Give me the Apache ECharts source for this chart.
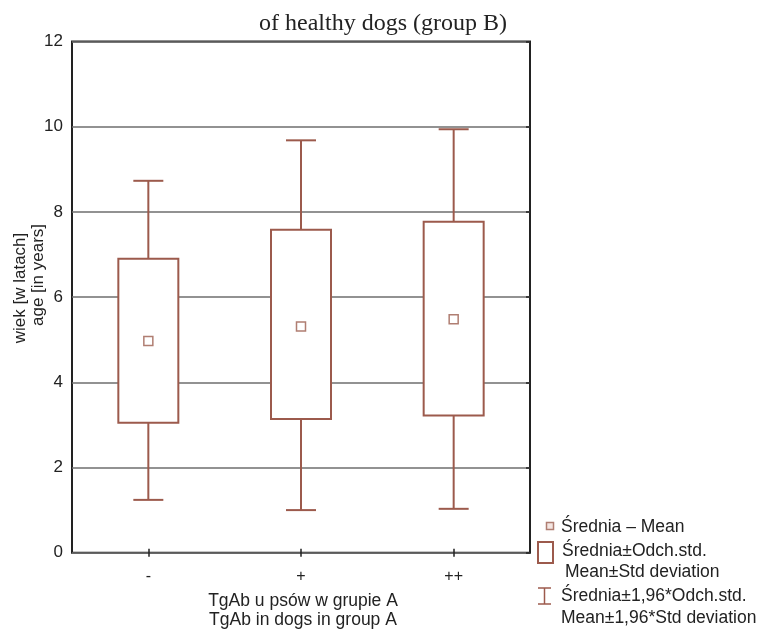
<!DOCTYPE html>
<html>
<head>
<meta charset="utf-8">
<script src="https://cdn.jsdelivr.net/npm/echarts@6/dist/echarts.min.js"></script>
<style>
  html, body { margin: 0; padding: 0; background: #fff; }
  #chart { width: 761px; height: 630px; }
</style>
</head>
<body>
<div id="chart"></div>
<script>
// TgAb groups and age statistics (years)
var categories = ['-', '+', '++'];
var means = [4.97, 5.31, 5.48];
var sdLow = [3.05, 3.14, 3.22];        // mean - SD
var sdHigh = [6.90, 7.58, 7.77];       // mean + SD
var ciLow = [1.24, 1.00, 1.03];        // mean - 1.96*SD
var ciHigh = [8.73, 9.68, 9.94];       // mean + 1.96*SD
var yTicks = [0, 2, 4, 6, 8, 10, 12];

var BROWN = '#9c5a4c';
var LIGHT_BROWN = '#b07e72';
var TEXT = '#222';
var SANS = '"Liberation Sans", Arial, sans-serif';
var LABEL_FONT = '17.5px ' + SANS;

var boxData = categories.map(function (c, i) {
  return [i, ciLow[i], sdLow[i], means[i], sdHigh[i], ciHigh[i]];
});

function renderBox(params, api) {
  var i = api.value(0);
  var x = api.coord([i, 0])[0];
  var yCiLow = api.coord([i, api.value(1)])[1];
  var ySdLow = api.coord([i, api.value(2)])[1];
  var yMean = api.coord([i, api.value(3)])[1];
  var ySdHigh = api.coord([i, api.value(4)])[1];
  var yCiHigh = api.coord([i, api.value(5)])[1];
  var boxW = 60, capW = 30, m = 9;
  var st = { stroke: BROWN, lineWidth: 2, fill: null };
  return {
    type: 'group',
    children: [
      { type: 'line', shape: { x1: x, y1: yCiHigh, x2: x, y2: ySdHigh }, style: st },
      { type: 'line', shape: { x1: x, y1: ySdLow, x2: x, y2: yCiLow }, style: st },
      { type: 'line', shape: { x1: x - capW / 2, y1: yCiHigh, x2: x + capW / 2, y2: yCiHigh }, style: st },
      { type: 'line', shape: { x1: x - capW / 2, y1: yCiLow, x2: x + capW / 2, y2: yCiLow }, style: st },
      { type: 'rect', shape: { x: x - boxW / 2, y: ySdHigh, width: boxW, height: ySdLow - ySdHigh },
        style: { stroke: BROWN, lineWidth: 2, fill: '#fff' } },
      { type: 'rect', shape: { x: x - m / 2, y: yMean - m / 2, width: m, height: m },
        style: { stroke: LIGHT_BROWN, lineWidth: 1.5, fill: '#fff' } }
    ]
  };
}

var chart = echarts.init(document.getElementById('chart'), null, { renderer: 'canvas' });

var gridBox = { left: 72, right: 231, top: 41.5, bottom: 77.3 };

chart.setOption({
  animation: false,
  backgroundColor: '#fff',
  title: {
    text: 'of healthy dogs (group B)',
    left: 378, top: 7, textAlign: 'center',
    textStyle: { fontFamily: '"Liberation Serif", "Times New Roman", serif', fontSize: 24, fontWeight: 'normal', color: TEXT }
  },
  grid: Object.assign({ show: true, borderColor: '#222', borderWidth: 2, backgroundColor: 'transparent' }, gridBox),
  xAxis: [
    {
      type: 'category', data: categories, position: 'bottom',
      axisLine: { show: false },
      axisTick: { show: true, inside: true, alignWithLabel: true, length: 4, lineStyle: { color: '#222', width: 1.5 } },
      axisLabel: { color: TEXT, fontFamily: SANS, fontSize: 16, margin: 16 }
    },
    {
      type: 'category', data: categories, position: 'top',
      axisLine: { show: false },
      axisTick: { show: true, inside: true, alignWithLabel: true, length: 4, lineStyle: { color: '#222', width: 1.5 } },
      axisLabel: { show: false }
    }
  ],
  yAxis: [
    {
      type: 'value', min: yTicks[0], max: yTicks[yTicks.length - 1], interval: 2,
      axisLine: { show: false },
      axisTick: { show: false },
      axisLabel: { color: TEXT, fontFamily: SANS, fontSize: 17, margin: 9 },
      splitLine: { show: true, lineStyle: { color: '#6e6e6e', width: 1.5 } }
    },
    {
      type: 'value', min: yTicks[0], max: yTicks[yTicks.length - 1], interval: 2, position: 'right',
      axisLine: { show: false },
      axisTick: { show: true, inside: true, length: 4, lineStyle: { color: '#222', width: 1.5 } },
      axisLabel: { show: false },
      splitLine: { show: false }
    }
  ],
  series: [{
    type: 'custom',
    xAxisIndex: 0, yAxisIndex: 0,
    renderItem: renderBox,
    encode: { x: 0, y: [1, 2, 3, 4, 5] },
    data: boxData,
    z: 5
  }],
  graphic: [
    // y-axis title (two lines)
    { type: 'text', x: 20, y: 288, rotation: Math.PI / 2,
      style: { text: 'wiek [w latach]', fill: TEXT, font: '17px ' + SANS, textAlign: 'center', textVerticalAlign: 'middle' } },
    { type: 'text', x: 38, y: 275, rotation: Math.PI / 2,
      style: { text: 'age [in years]', fill: TEXT, font: '17px ' + SANS, textAlign: 'center', textVerticalAlign: 'middle' } },
    // x-axis title (two lines)
    { type: 'text', x: 303, y: 601,
      style: { text: 'TgAb u psów w grupie A', fill: TEXT, font: LABEL_FONT, textAlign: 'center', textVerticalAlign: 'middle' } },
    { type: 'text', x: 303, y: 620,
      style: { text: 'TgAb in dogs in group A', fill: TEXT, font: LABEL_FONT, textAlign: 'center', textVerticalAlign: 'middle' } },
    // legend: mean marker
    { type: 'rect', shape: { x: 546.5, y: 522.5, width: 7, height: 7 },
      style: { stroke: LIGHT_BROWN, lineWidth: 1.5, fill: '#f4e6e2' } },
    { type: 'text', x: 561, y: 527,
      style: { text: 'Średnia – Mean', fill: TEXT, font: LABEL_FONT, textVerticalAlign: 'middle' } },
    // legend: mean ± SD box
    { type: 'rect', shape: { x: 538, y: 542, width: 15, height: 21 },
      style: { stroke: BROWN, lineWidth: 2, fill: '#fff' } },
    { type: 'text', x: 562, y: 551,
      style: { text: 'Średnia±Odch.std.', fill: TEXT, font: LABEL_FONT, textVerticalAlign: 'middle' } },
    { type: 'text', x: 565, y: 572,
      style: { text: 'Mean±Std deviation', fill: TEXT, font: LABEL_FONT, textVerticalAlign: 'middle' } },
    // legend: mean ± 1.96 SD whisker
    { type: 'line', shape: { x1: 538, y1: 588, x2: 551, y2: 588 }, style: { stroke: BROWN, lineWidth: 1.5 } },
    { type: 'line', shape: { x1: 544.5, y1: 588, x2: 544.5, y2: 604 }, style: { stroke: BROWN, lineWidth: 1.5 } },
    { type: 'line', shape: { x1: 538, y1: 604, x2: 551, y2: 604 }, style: { stroke: BROWN, lineWidth: 1.5 } },
    { type: 'text', x: 561, y: 596,
      style: { text: 'Średnia±1,96*Odch.std.', fill: TEXT, font: LABEL_FONT, textVerticalAlign: 'middle' } },
    { type: 'text', x: 561, y: 618,
      style: { text: 'Mean±1,96*Std deviation', fill: TEXT, font: LABEL_FONT, textVerticalAlign: 'middle' } }
  ]
});
</script>
</body>
</html>
